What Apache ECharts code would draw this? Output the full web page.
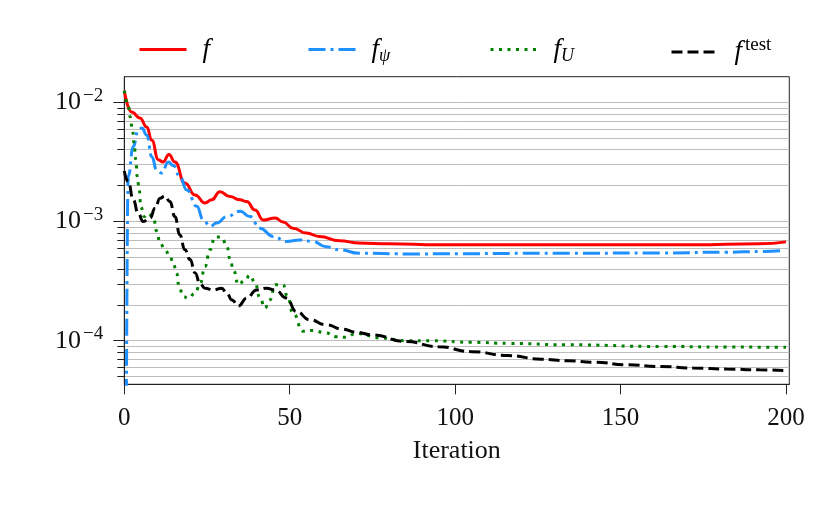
<!DOCTYPE html>
<html>
<head>
<meta charset="utf-8">
<script src="https://cdn.jsdelivr.net/npm/echarts@6/dist/echarts.min.js"></script>
<style>
  html, body { margin: 0; padding: 0; background: #fff; }
  #chart { width: 831px; height: 513px; }
</style>
</head>
<body>
<div id="chart"></div>
<script>
// ========== 数据 ==========
const fIter = [0, 2.2, 4.7, 6.8, 8.3, 10.3, 11.7, 13.5, 15.3, 18.3, 21.4, 24.4, 26.4, 28.9, 31.9, 35, 37,
    39.5, 42, 45.6, 48, 51, 55, 59, 65, 71, 80, 95, 135, 172, 192, 200];
const fVals = [1.25e-2, 8.3e-3, 7.4e-3, 6.2e-3, 4.8e-3, 3.3e-3, 3.15e-3, 3.65e-3, 3.15e-3, 2.1e-3, 1.67e-3,
    1.43e-3, 1.52e-3, 1.78e-3, 1.62e-3, 1.52e-3, 1.47e-3, 1.25e-3, 1.03e-3, 1.07e-3, 9.9e-4, 8.8e-4, 8.0e-4,
    7.5e-4, 6.9e-4, 6.6e-4, 6.5e-4, 6.37e-4, 6.37e-4, 6.37e-4, 6.5e-4, 6.75e-4];

const psiIter = [0, 1.2, 2.7, 4.2, 5.3, 6.8, 8.3, 9.8, 11.3, 13.3, 14.8, 16.8, 18.9, 21.9, 23.9, 25.9, 27.9,
    31, 35, 38, 41, 45, 49, 53, 57, 61, 65, 71, 85, 135, 162, 182, 192, 199];
const psiVals = [1e-10, 2.4e-3, 4.25e-3, 5.85e-3, 6.1e-3, 5.3e-3, 3.5e-3, 2.7e-3, 2.55e-3, 3.15e-3, 2.95e-3,
    2.38e-3, 1.84e-3, 1.34e-3, 1.03e-3, 9.1e-4, 9.7e-4, 1.1e-3, 1.22e-3, 1.1e-3, 8.8e-4, 7.5e-4, 6.8e-4,
    7.0e-4, 6.8e-4, 6.15e-4, 5.8e-4, 5.42e-4, 5.35e-4, 5.42e-4, 5.45e-4, 5.53e-4, 5.6e-4, 5.7e-4];

const uIter = [0, 1.2, 1.7, 2.5, 2.9, 3.5, 3.9, 4.5, 5, 6, 7.3, 8.8, 9.8, 10.8, 12.3, 13.8, 14.8, 15.8, 16.6,
    17.8, 19.3, 21.4, 22.9, 24.4, 25.9, 27.4, 29.4, 31, 32, 33, 34.5, 36.5, 38, 39.5, 41, 42.5, 44, 45.6, 48,
    49.3, 51, 54, 57, 61, 64, 67, 70, 78, 85, 93, 105, 116, 134, 162, 182, 200];
const uVals = [1.25e-2, 9.5e-3, 7.6e-3, 5.9e-3, 4.6e-3, 3.3e-3, 2.4e-3, 1.84e-3, 1.33e-3, 1.1e-3, 1.17e-3,
    1.07e-3, 8.3e-4, 6.6e-4, 5.8e-4, 5.1e-4, 4.5e-4, 3.7e-4, 2.8e-4, 2.35e-4, 2.27e-4, 2.5e-4, 3.0e-4, 4.2e-4,
    5.8e-4, 7.4e-4, 7.4e-4, 6.2e-4, 4.8e-4, 3.9e-4, 2.95e-4, 3.25e-4, 3.55e-4, 3.05e-4, 2.3e-4, 1.88e-4,
    2.2e-4, 2.95e-4, 2.95e-4, 2.35e-4, 1.7e-4, 1.2e-4, 1.22e-4, 1.16e-4, 1.08e-4, 1.07e-4, 1.15e-4, 1.05e-4,
    1.0e-4, 1.0e-4, 9.7e-5, 9.5e-5, 9.25e-5, 8.95e-5, 8.85e-5, 8.8e-5];

const testIter = [0, 1.2, 2.7, 4.2, 5.7, 7.8, 9.3, 10.8, 12.3, 13.8, 15.3, 16.8, 18.3, 19.9, 21.4, 22.9, 24.4,
    26.9, 29.4, 31, 32.5, 34.5, 37, 40, 43, 45.6, 49, 52, 56, 61, 66, 70, 75, 85, 95, 105, 116, 126, 134, 142,
    152, 162, 172, 182, 192, 200];
const testVals = [2.65e-3, 2.16e-3, 1.52e-3, 1.17e-3, 1.0e-3, 1.07e-3, 1.29e-3, 1.57e-3, 1.64e-3, 1.47e-3,
    1.1e-3, 7.7e-4, 5.8e-4, 4.8e-4, 3.7e-4, 3.0e-4, 2.76e-4, 2.67e-4, 2.76e-4, 2.5e-4, 2.2e-4, 1.96e-4, 2.28e-4,
    2.67e-4, 2.76e-4, 2.67e-4, 2.28e-4, 1.76e-4, 1.5e-4, 1.36e-4, 1.25e-4, 1.18e-4, 1.12e-4, 9.85e-5, 8.9e-5,
    8.1e-5, 7.5e-5, 7.0e-5, 6.8e-5, 6.6e-5, 6.28e-5, 6.08e-5, 5.9e-5, 5.78e-5, 5.7e-5, 5.62e-5];

// 刻度
const xTicks = [0, 50, 100, 150, 200];
const yMajorTicks = [1e-4, 1e-3, 1e-2];
const yMinorTicks = [5e-5, 6e-5, 7e-5, 8e-5, 9e-5,
    2e-4, 3e-4, 4e-4, 5e-4, 6e-4, 7e-4, 8e-4, 9e-4,
    2e-3, 3e-3, 4e-3, 5e-3, 6e-3, 7e-3, 8e-3, 9e-3];

// ========== 样式 ==========
const FONT = 'Liberation Serif';
const AXIS_COLOR = '#222';
const NONE = 'rgba(0,0,0,0)';
const SMOOTH = 0.5;

function pairs(xs, ys) {
    return xs.map((x, i) => [x, ys[i]]);
}

function makeLegend(name, left) {
    return {
        data: [name],
        left: left,
        top: 31,
        itemWidth: 47,
        itemHeight: 3,
        selectedMode: false,
        lineStyle: { width: 3 },
        // 隐藏图例中的圆点, 只留线
        itemStyle: { color: NONE, borderColor: NONE, borderWidth: 0 },
        formatter: legendText,
        textStyle: {
            color: '#000',
            rich: {
                m: { fontFamily: FONT, fontStyle: 'italic', fontSize: 27, lineHeight: 32, padding: [0, 0, 0, 11] },
                sub: { fontFamily: FONT, fontStyle: 'italic', fontSize: 18, lineHeight: 18, verticalAlign: 'bottom' },
                sup: { fontFamily: FONT, fontSize: 19, lineHeight: 18, verticalAlign: 'top', padding: [0, 0, 0, 3] }
            }
        }
    };
}

function legendText(name) {
    if (name === 'f_psi') return '{m|f}{sub|ψ}';
    if (name === 'f_U') return '{m|f}{sub|U}';
    if (name === 'f_test') return '{m|f}{sup|test}';
    return '{m|f}';
}

function yLabel(v) {
    const e = Math.round(Math.log10(v));
    return '{b|10}{e|' + (e < 0 ? '−' : '') + Math.abs(e) + '}';
}

const yBase = {
    type: 'log',
    logBase: 10,
    min: 4.31e-5,
    max: 1.64e-2,
    position: 'left'
};

function lineSeries(name, xs, ys, color, type) {
    return {
        name: name, type: 'line', data: pairs(xs, ys),
        symbol: 'none', smooth: SMOOTH, smoothMonotone: 'x',
        itemStyle: { color: color },
        lineStyle: { color: color, width: 3, type: type }
    };
}

// ========== 图表 ==========
const chart = echarts.init(document.getElementById('chart'));

const option = {
    backgroundColor: '#fff',
    animation: false,
    grid: {
        left: 124.3, right: 41.7, top: 76.7, bottom: 128.7,
        show: true, borderColor: AXIS_COLOR, borderWidth: 1
    },
    legend: [
        makeLegend('f', 133),
        makeLegend('f_psi', 302),
        makeLegend('f_U', 484),
        makeLegend('f_test', 665)
    ],
    xAxis: {
        type: 'value',
        min: 0,
        max: 201,
        name: 'Iteration',
        nameLocation: 'middle',
        nameGap: 54,
        nameTextStyle: { fontFamily: FONT, fontSize: 26, color: '#111' },
        axisLine: { lineStyle: { color: AXIS_COLOR, width: 1 } },
        axisTick: { customValues: xTicks, length: 10, lineStyle: { color: AXIS_COLOR } },
        axisLabel: { customValues: xTicks, margin: 22, fontFamily: FONT, fontSize: 25, color: '#111' },
        splitLine: { show: false }
    },
    yAxis: [
        Object.assign({}, yBase, {
            axisLine: { show: true, lineStyle: { color: AXIS_COLOR, width: 1 } },
            axisTick: { customValues: yMajorTicks.concat(yMinorTicks), length: 7, lineStyle: { color: AXIS_COLOR } },
            axisLabel: {
                customValues: yMajorTicks,
                margin: 21,
                formatter: yLabel,
                color: '#111',
                rich: {
                    b: { fontFamily: FONT, fontSize: 26, lineHeight: 32 },
                    e: { fontFamily: FONT, fontSize: 19, lineHeight: 14, verticalAlign: 'top', padding: [0, 0, 0, 2] }
                }
            },
            splitLine: { show: true, lineStyle: { color: '#bdbdbd', width: 1 } }
        }),
        Object.assign({}, yBase, {
            axisLine: { show: false },
            axisTick: { customValues: yMajorTicks, length: 11, lineStyle: { color: AXIS_COLOR } },
            axisLabel: { show: false },
            splitLine: { show: false }
        })
    ],
    series: [
        lineSeries('f', fIter, fVals, '#ff0000', 'solid'),
        lineSeries('f_psi', psiIter, psiVals, '#1e90ff', [17, 5, 3, 5]),
        lineSeries('f_U', uIter, uVals, '#008000', [3, 5.5]),
        lineSeries('f_test', testIter, testVals, '#000000', [11, 5])
    ]
};

chart.setOption(option);
window.addEventListener('resize', () => chart.resize());
</script>
</body>
</html>
